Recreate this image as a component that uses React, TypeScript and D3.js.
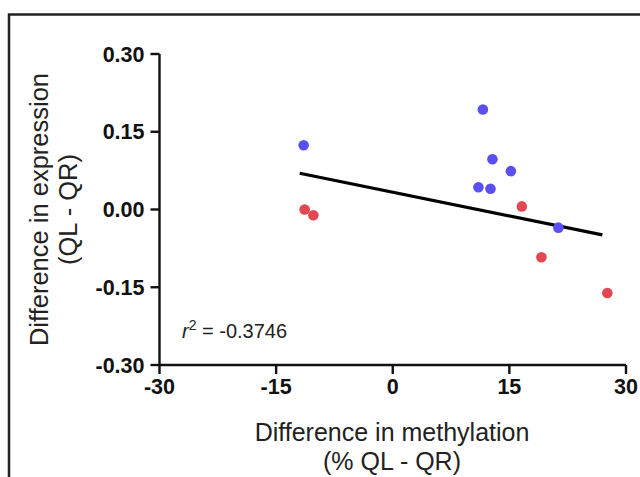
import React from "react";
import * as d3 from "d3";

const xTicks = [-30, -15, 0, 15, 30];
const yTicks = [0.3, 0.15, 0.0, -0.15, -0.3];
const blueX = [-11.46, 11.59, 12.82, 15.19, 11.02, 12.57, 21.3];
const blueY = [0.124, 0.193, 0.097, 0.074, 0.043, 0.04, -0.035];
const redX = [16.6, -11.33, -10.21, 19.12, 27.6];
const redY = [0.006, 0.0, -0.011, -0.092, -0.161];
const fitX = [-11.97, 26.96];
const fitY = [0.07, -0.049];
const rSquaredLabel = "-0.3746";

export default function App() {
  const W = 640, H = 477;
  const x = d3.scaleLinear().domain([-30, 30]).range([159.5, 626]);
  const y = d3.scaleLinear().domain([-0.3, 0.3]).range([365, 54]);
  const line = d3.line<number>().x((_, i) => x(fitX[i])).y((d) => y(d));
  const font = "'Liberation Sans', Arial, sans-serif";
  return (
    <svg width={W} height={H} style={{ position: "absolute", left: 0, top: 0, background: "#fff" }}>
      <rect x={9} y={14.5} width={700} height={600} fill="none" stroke="#222" strokeWidth={2.5} />
      <line x1={x(-30)} x2={x(-30)} y1={y(0.3)} y2={y(-0.3)} stroke="#111" strokeWidth={2.4} />
      <line x1={x(-30)} x2={x(30)} y1={y(-0.3)} y2={y(-0.3)} stroke="#111" strokeWidth={2.4} />
      {yTicks.map((t) => (
        <g key={"y" + t}>
          <line x1={x(-30) - 9} x2={x(-30)} y1={y(t)} y2={y(t)} stroke="#111" strokeWidth={2.4} />
          <text x={x(-30) - 15} y={y(t)} dy="0.36em" textAnchor="end" fontFamily={font} fontWeight="bold" fontSize={21.5} fill="#111">
            {t.toFixed(2)}
          </text>
        </g>
      ))}
      {xTicks.map((t) => (
        <g key={"x" + t}>
          <line x1={x(t)} x2={x(t)} y1={y(-0.3)} y2={y(-0.3) + 9} stroke="#111" strokeWidth={2.4} />
          <text x={x(t)} y={y(-0.3) + 29} textAnchor="middle" fontFamily={font} fontWeight="bold" fontSize={21.5} fill="#111">
            {t}
          </text>
        </g>
      ))}
      <text x={392} y={441} textAnchor="middle" fontFamily={font} fontSize={25} fill="#222">Difference in methylation</text>
      <text x={392} y={470} textAnchor="middle" fontFamily={font} fontSize={25} fill="#222">(% QL - QR)</text>
      <g transform={`translate(48, ${y(0)}) rotate(-90)`}>
        <text x={0} y={0} textAnchor="middle" fontFamily={font} fontSize={25.5} fill="#222">Difference in expression</text>
        <text x={0} y={29} textAnchor="middle" fontFamily={font} fontSize={25.5} fill="#222">(QL - QR)</text>
      </g>
      <path d={line(fitY) || ""} fill="none" stroke="#000" strokeWidth={3.2} />
      {blueX.map((v, i) => (
        <circle key={"b" + i} cx={x(v)} cy={y(blueY[i])} r={5.3} fill="#5a4fef" />
      ))}
      {redX.map((v, i) => (
        <circle key={"r" + i} cx={x(v)} cy={y(redY[i])} r={5.3} fill="#e2484f" />
      ))}
      <text x={182} y={338} fontFamily={font} fontSize={20} fill="#222">
        <tspan fontStyle="italic">r</tspan>
        <tspan dy={-8} fontSize={14}>2</tspan>
        <tspan dy={8}>{" = " + rSquaredLabel}</tspan>
      </text>
    </svg>
  );
}
